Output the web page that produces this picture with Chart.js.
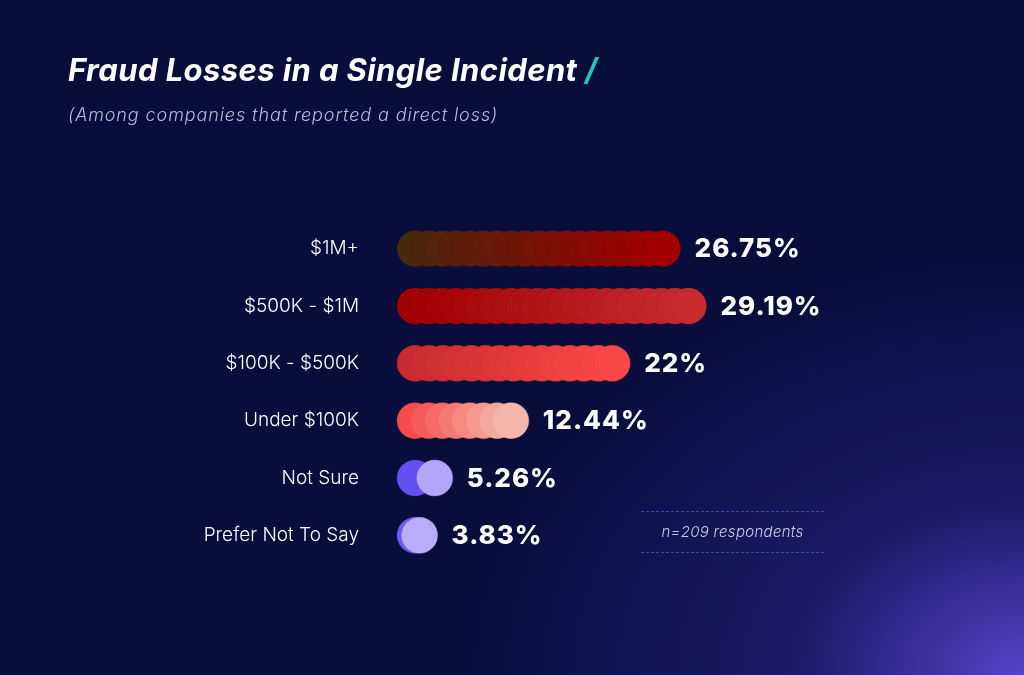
<!DOCTYPE html>
<html><head><meta charset="utf-8">
<script src="https://cdn.jsdelivr.net/npm/chart.js@4"></script>
<style>
html,body{margin:0;padding:0;width:1024px;height:675px;overflow:hidden;background:#080d3c;font-family:Inter,"Noto Sans",sans-serif}
#bg{position:absolute;left:0;top:0;width:1024px;height:675px;background:radial-gradient(ellipse 560px 420px at 1024px 675px,rgba(90,70,210,0.95) 0%,rgba(50,40,150,0.5) 40%,rgba(8,13,60,0) 100%)}
#wrap{position:absolute;left:0;top:0;width:1024px;height:675px}
.t{position:absolute;color:#fff}
#title{left:68px;top:51px;font-size:31px;font-weight:700;font-style:italic;letter-spacing:0.4px}
#title span{color:#1fc7b6}
#sub{left:68px;top:104px;font-size:18px;font-style:italic;font-weight:300;color:#b8bcd8;letter-spacing:0.9px}
#nbox{position:absolute;left:641px;top:511px;width:183px;height:40px;border-top:1px dashed #3848a8;border-bottom:1px dashed #3848a8;color:#c8cce4;font-size:15px;font-style:italic;font-weight:300;text-align:center;line-height:40px;letter-spacing:0.3px}
</style></head><body>
<div id="bg"></div>
<div id="wrap"><canvas id="c" width="1024" height="675"></canvas></div>
<div class="t" id="title">Fraud Losses in a Single Incident <span>/</span></div>
<div class="t" id="sub">(Among companies that reported a direct loss)</div>
<div id="nbox">n=209 respondents</div>
<script>
const categories=["$1M+","$500K - $1M","$100K - $500K","Under $100K","Not Sure","Prefer Not To Say"];
const values=[26.75,29.19,22,12.44,5.26,3.83];
const valueLabels=["26.75%","29.19%","22%","12.44%","5.26%","3.83%"];
const startColors=[[74,40,14],[160,0,0],[200,44,48],[248,76,76],[100,80,240],[110,90,240]];
const endColors=[[160,0,0],[200,42,48],[250,72,72],[244,182,170],[180,164,250],[186,172,250]];
const circles={id:'circles',afterDatasetsDraw(chart){
  const ctx=chart.ctx;const meta=chart.getDatasetMeta(0);
  meta.data.forEach((el,i)=>{
    const h=el.height, r=h/2, x0=el.base+r, x1=el.x-r, y=el.y;
    const step=14; const n=Math.max(1,Math.round((x1-x0)/step));
    for(let k=0;k<=n;k++){
      const t=n?k/n:1; const cx=x0+(x1-x0)*t;
      const s=startColors[i],e=endColors[i];
      const c=s.map((v,j)=>Math.round(v+(e[j]-v)*t));
      ctx.beginPath();ctx.arc(cx,y,r,0,Math.PI*2);
      ctx.fillStyle=`rgb(${c[0]},${c[1]},${c[2]})`;ctx.fill();
      ctx.strokeStyle=`rgba(${Math.max(0,c[0]-20)},${Math.max(0,c[1]-12)},${Math.max(0,c[2]-12)},0.45)`;ctx.lineWidth=0.8;ctx.stroke();
    }
    ctx.fillStyle='#fff';ctx.font='800 26px Inter, "Noto Sans", sans-serif';
    ctx.textAlign='left';ctx.textBaseline='middle';
    if(ctx.letterSpacing!==undefined)ctx.letterSpacing='1px';
    ctx.fillText(valueLabels[i],el.x+14,y+1);
    if(ctx.letterSpacing!==undefined)ctx.letterSpacing='0px';
  });
}};
new Chart(document.getElementById('c'),{
  type:'bar',
  data:{labels:categories,datasets:[{data:values,backgroundColor:'rgba(0,0,0,0)',barThickness:36}]},
  options:{indexAxis:'y',responsive:false,animation:false,
    layout:{padding:{left:0,right:97,top:220,bottom:111}},
    plugins:{legend:{display:false},tooltip:{enabled:false}},
    scales:{
      x:{display:false,min:0,max:50},
      y:{grid:{display:false},border:{display:false},
        afterFit(s){s.width=397;},
        ticks:{color:'#fff',padding:30,font:{size:19,family:'Inter, "Noto Sans", sans-serif',weight:300}}}
    }},
  plugins:[circles]
});
</script>
</body></html>
